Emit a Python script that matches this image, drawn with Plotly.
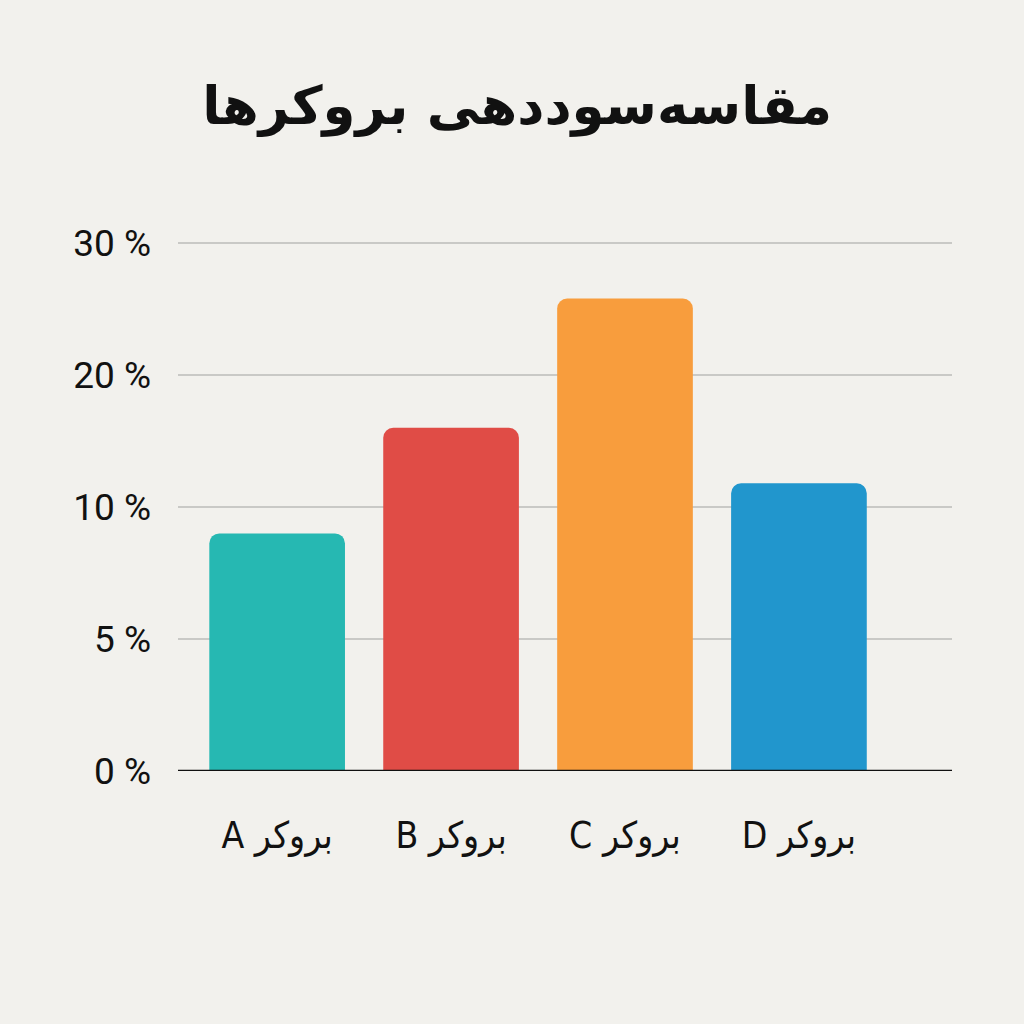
import numpy as np
import plotly.graph_objects as go

# data
brokers = ["بروکر A", "بروکر B", "بروکر C", "بروکر D"]
profit_pct = [9.0, 16.0, 25.8, 11.8]
bar_colors = ["#26b8b2", "#e04c46", "#f89d3d", "#2196cd"]

# the y axis in the picture is not linear: ticks are evenly spaced
tick_vals = [0, 5, 10, 20, 30]
tick_text = ["0 %", "5 %", "10 %", "20 %", "30 %"]
tick_pos = list(range(len(tick_vals)))

# map percent values onto the piecewise axis scale
bar_pos = np.interp(profit_pct, tick_vals, tick_pos)

# labels are drawn right-to-left (letter on the left of the word)
x_labels = ["\u202b" + b + "\u202c" for b in brokers]

fig = go.Figure()
fig.add_trace(go.Bar(
    x=brokers,
    y=bar_pos,
    marker=dict(color=bar_colors, cornerradius=10, line=dict(width=0)),
    customdata=profit_pct,
    hovertemplate="%{x}: %{customdata}%<extra></extra>",
))

fig.update_layout(
    width=1024, height=1024,
    paper_bgcolor="#f2f1ed", plot_bgcolor="#f2f1ed",
    margin=dict(l=178, r=72, t=200, b=253),
    bargap=0.22,
    showlegend=False,
    title=dict(
        text="<b>مقاسه‌سوددهی بروکرها</b>",
        x=0.505, xanchor="center", y=0.897, yanchor="middle",
        font=dict(family="DejaVu Sans", size=53, color="#111111"),
    ),
    xaxis=dict(
        range=[-0.57, 3.88],
        tickvals=brokers, ticktext=x_labels,
        showgrid=False, zeroline=False,
        showline=False, ticks="",
        tickfont=dict(family="DejaVu Sans Condensed", size=37, color="#111111"),
        ticklabelstandoff=39,
    ),
    yaxis=dict(
        range=[0, 4.326],
        tickvals=tick_pos, ticktext=tick_text,
        showgrid=True, gridcolor="#c9c9c6", gridwidth=2,
        zeroline=False, showline=False, ticks="",
        tickfont=dict(family="Roboto", size=37, color="#111111"),
        ticklabelstandoff=26,
    ),
)

# baseline at 0
fig.add_shape(type="line", xref="paper", yref="y", x0=0, x1=1, y0=0, y1=0,
              line=dict(color="#111111", width=2.5))

fig.write_html("out.html", config={"displayModeBar": False},
               post_script="document.body.style.margin='0';")
